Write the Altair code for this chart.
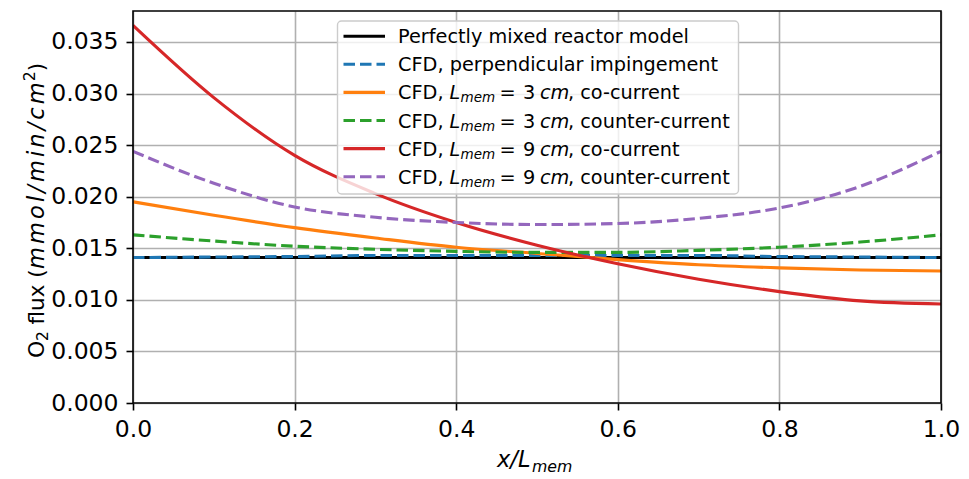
import altair as alt
import pandas as pd

# ---- data -------------------------------------------------------------
x_pos = [0.0, 0.1, 0.2, 0.3, 0.4, 0.5, 0.6, 0.7, 0.8, 0.9, 1.0]

perfectly_mixed = [0.0141, 0.0141, 0.0141, 0.0141, 0.0141, 0.0141, 0.0141, 0.0141, 0.0141, 0.0141, 0.0141]
perpendicular = [0.0141, 0.01415, 0.0142, 0.0143, 0.0143, 0.0143, 0.0143, 0.0143, 0.0142, 0.01415, 0.0141]
co_3cm = [0.0195, 0.0182, 0.0170, 0.0160, 0.0151, 0.0145, 0.0139, 0.0134, 0.0131, 0.0129, 0.0128]
counter_3cm = [0.0163, 0.0157, 0.0152, 0.0149, 0.0147, 0.0146, 0.0146, 0.0148, 0.0151, 0.0156, 0.0163]
co_9cm = [0.0366, 0.0296, 0.0240, 0.0203, 0.0175, 0.0153, 0.0135, 0.0120, 0.0108, 0.0099, 0.0096]
counter_9cm = [0.0244, 0.0213, 0.0190, 0.0180, 0.0175, 0.0173, 0.0174, 0.0179, 0.0189, 0.0210, 0.0244]

x_ticks = [0.0, 0.2, 0.4, 0.6, 0.8, 1.0]
y_ticks = [0.000, 0.005, 0.010, 0.015, 0.020, 0.025, 0.030, 0.035]

# legend rows: list of (text, style) runs
legend_rows = [
    [("Perfectly mixed reactor model", "n")],
    [("CFD, perpendicular impingement", "n")],
    [("CFD, ", "n"), ("L", "i"), ("mem", "sub"), ("=", "n"), ("3", "n"), ("cm", "i"), (", co-current", "n")],
    [("CFD, ", "n"), ("L", "i"), ("mem", "sub"), ("=", "n"), ("3", "n"), ("cm", "i"), (", counter-current", "n")],
    [("CFD, ", "n"), ("L", "i"), ("mem", "sub"), ("=", "n"), ("9", "n"), ("cm", "i"), (", co-current", "n")],
    [("CFD, ", "n"), ("L", "i"), ("mem", "sub"), ("=", "n"), ("9", "n"), ("cm", "i"), (", counter-current", "n")],
]

# ---- styling ----------------------------------------------------------
series = [
    ("Perfectly mixed reactor model", perfectly_mixed, "#000000", None),
    ("CFD, perpendicular impingement", perpendicular, "#1f77b4", [11.5, 5]),
    ("CFD, Lmem = 3 cm, co-current", co_3cm, "#ff7f0e", None),
    ("CFD, Lmem = 3 cm, counter-current", counter_3cm, "#2ca02c", [11.5, 5]),
    ("CFD, Lmem = 9 cm, co-current", co_9cm, "#d62728", None),
    ("CFD, Lmem = 9 cm, counter-current", counter_9cm, "#9467bd", [11.5, 5]),
]

FONT = "DejaVu Sans"
LEFT, TOP = 133, 11          # plot-area origin inside the page
W, H = 808, 392              # plot-area size
LW = 3.1
TICK_FS = 23.5
TITLE_FS = 22.5

x_scale = alt.Scale(domain=[0, 1], nice=False, zero=False)
y_scale = alt.Scale(domain=[0, 0.038], nice=False, zero=False)

common_axis = dict(
    title=None, grid=True, gridColor="#b0b0b0", gridWidth=1.6,
    domain=False, ticks=True, tickColor="#000000", tickSize=7, tickWidth=1.6,
    labelFont=FONT, labelFontSize=TICK_FS, labelColor="#000000",
    labelFlush=False, labelOverlap=False,
)
x_axis = alt.Axis(values=x_ticks, format=".1f", labelPadding=7, **common_axis)
y_axis = alt.Axis(values=y_ticks, format=".3f", labelPadding=8, **common_axis)

layers = []
for name, vals, color, dash in series:
    df = pd.DataFrame({"x": x_pos, "flux": vals, "series": name})
    kw = dict(color=color, strokeWidth=LW, interpolate="monotone", clip=True)
    if dash:
        kw["strokeDash"] = dash
    layers.append(
        alt.Chart(df).mark_line(**kw).encode(
            x=alt.X("x:Q", scale=x_scale, axis=x_axis),
            y=alt.Y("flux:Q", scale=y_scale, axis=y_axis),
        )
    )

one = pd.DataFrame({"k": [0]})

# axes frame drawn above the curves
frame = alt.Chart(one).mark_rect(fillOpacity=0, stroke="#000000", strokeWidth=1.6).encode(
    x=alt.value(0), x2=alt.value(W), y=alt.value(0), y2=alt.value(H)
)
layers.append(frame)

# ---- legend -----------------------------------------------------------
box = alt.Chart(one).mark_rect(
    fill="#ffffff", fillOpacity=0.8, stroke="#cccccc", strokeWidth=1.4, cornerRadius=4
).encode(
    x=alt.value(337.5 - LEFT), x2=alt.value(738.5 - LEFT),
    y=alt.value(21 - TOP), y2=alt.value(194 - TOP),
)
layers.append(box)

ROW0, ROW_STEP = 36.2, 28.1
for i, (name, vals, color, dash) in enumerate(series):
    yy = ROW0 + ROW_STEP * i - TOP
    kw = dict(color=color, strokeWidth=LW)
    if dash:
        kw["strokeDash"] = dash
    layers.append(
        alt.Chart(one).mark_rule(**kw).encode(
            x=alt.value(343.5 - LEFT), x2=alt.value(385 - LEFT), y=alt.value(yy)
        )
    )

LEG_FS = 19.3
run_x = [398, 449.5, 460.5, 499.5, 523, 540, 568]
style_rows = {"n": [], "i": [], "sub": []}
for i, runs in enumerate(legend_rows):
    base = ROW0 + ROW_STEP * i + 7.0 - TOP
    for j, (txt, st) in enumerate(runs):
        xx = (run_x[j] if len(runs) > 1 else 398) - LEFT
        yy = base + (3.0 if st == "sub" else 0.0)
        style_rows[st].append({"tx": xx, "ty": yy, "t": txt})


def text_layer(rows, size, italic=False, angle=0):
    kw = dict(align="left", baseline="alphabetic", font=FONT, fontSize=size, color="#000000")
    if italic:
        kw["fontStyle"] = "italic"
    if angle:
        kw["angle"] = angle
    return alt.Chart(pd.DataFrame(rows)).mark_text(**kw).encode(
        x=alt.X("tx:Q", scale=None, axis=None),
        y=alt.Y("ty:Q", scale=None, axis=None),
        text="t:N",
    )


layers.append(text_layer(style_rows["n"], LEG_FS))
layers.append(text_layer(style_rows["i"], LEG_FS, italic=True))
layers.append(text_layer(style_rows["sub"], LEG_FS * 0.7, italic=True))

# ---- axis titles ------------------------------------------------------
# x title: x/L_mem
layers.append(text_layer([{"tx": 497 - LEFT, "ty": 467 - TOP, "t": "x/L"}], TITLE_FS, italic=True))
layers.append(text_layer([{"tx": 532 - LEFT, "ty": 471.5 - TOP, "t": "mem"}], TITLE_FS * 0.7, italic=True))

# y title: O2 flux (mmol/min/cm^2), reading bottom to top.
# The math-italic run is laid out glyph by glyph with loose spacing.
ADVANCE = {"m": 1995, "o": 1253, "l": 569, "/": 690, "i": 569, "n": 1298, "c": 1126}
YB = 44.0
italic_rows = []
pos = 269.0
for ch in "mmol/min/cm":
    italic_rows.append({"tx": YB - LEFT, "ty": pos - TOP, "t": ch})
    pos -= ADVANCE[ch] / 2048 * TITLE_FS + 3.1
cm_end = pos + 3.1

layers.append(text_layer([{"tx": YB - LEFT, "ty": 358 - TOP, "t": "O"}], 22, angle=270))
layers.append(text_layer([{"tx": YB + 4 - LEFT, "ty": 341 - TOP, "t": "2"}], 15.4, angle=270))
layers.append(text_layer([{"tx": YB - LEFT, "ty": 324.5 - TOP, "t": "flux ("},
                          {"tx": YB - LEFT, "ty": cm_end - 11 - TOP, "t": ")"}], 21.5, angle=270))
layers.append(text_layer(italic_rows, TITLE_FS, italic=True, angle=270))
layers.append(text_layer([{"tx": YB - 9 - LEFT, "ty": cm_end - 1 - TOP, "t": "2"}], TITLE_FS * 0.7, angle=270))

chart = alt.layer(*layers).properties(
    width=W, height=H,
    autosize=alt.AutoSizeParams(type="none"),
    padding={"left": LEFT, "top": TOP, "right": 969 - LEFT - W, "bottom": 479 - TOP - H},
    background="#ffffff",
).configure_view(stroke=None)

chart.save("out.html", embed_options={"renderer": "svg", "actions": False})
